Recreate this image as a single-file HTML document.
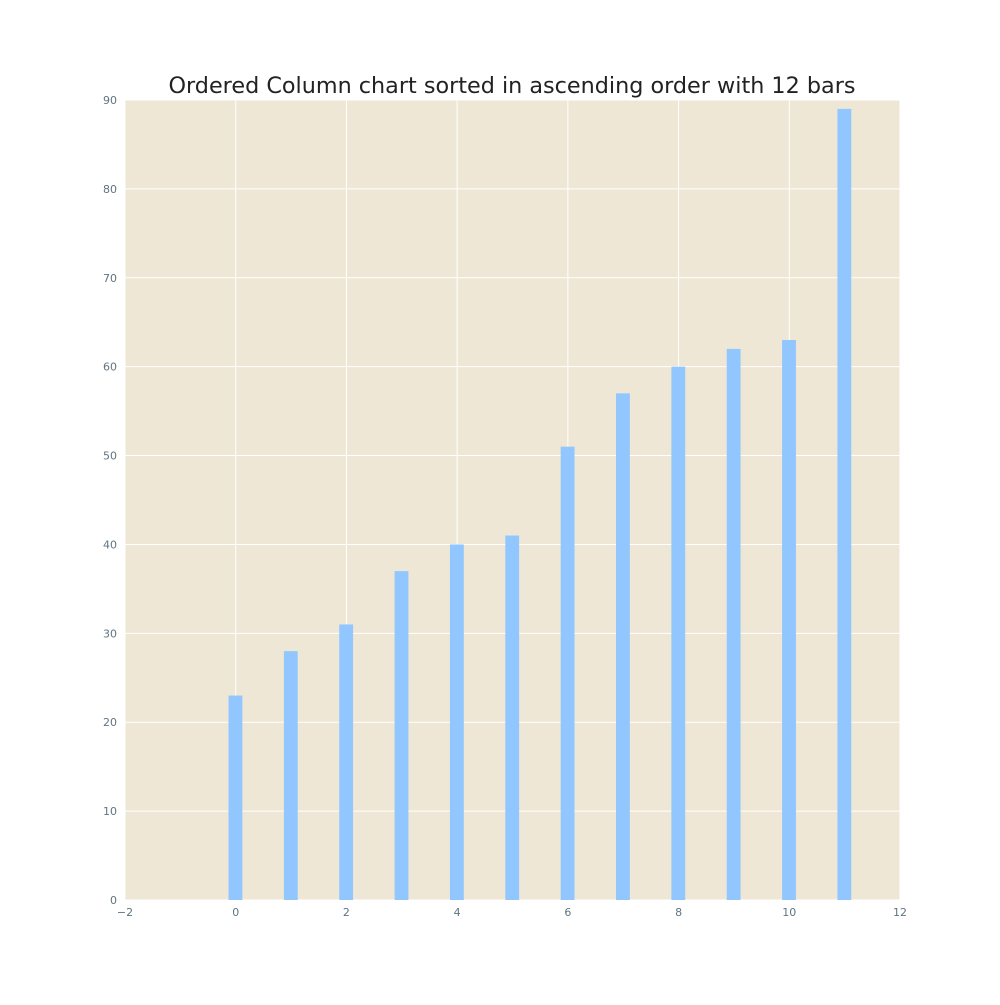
<!DOCTYPE html>
<html><head><meta charset="utf-8"><style>
body{margin:0;background:#fff;}
svg text{font-family:"DejaVu Sans","Liberation Sans",sans-serif;}
</style></head><body>
<svg id="chart" width="1000" height="1000" xmlns="http://www.w3.org/2000/svg">
<text x="512" y="93" text-anchor="middle" font-size="22.3" fill="#222">Ordered Column chart sorted in ascending order with 12 bars</text>
<rect x="125" y="100" width="775" height="800" fill="#efe7d5"/>
<g id="grid"></g><g id="bars"></g><g id="ticks"></g>
</svg>
<script>
const categories=[0,1,2,3,4,5,6,7,8,9,10,11];
const values=[23,28,31,37,40,41,51,57,60,62,63,89];
const xTicks=[-2,0,2,4,6,8,10,12];
const yTicks=[0,10,20,30,40,50,60,70,80,90];
const L=125,R=900,T=100,B=900;
const xs=v=>L+(v+2)/14*(R-L);
const ys=v=>B-v/90*(B-T);
const NS='http://www.w3.org/2000/svg';
function mk(t,a,p){const e=document.createElementNS(NS,t);for(const k in a)e.setAttribute(k,a[k]);document.getElementById(p).appendChild(e);return e;}
xTicks.forEach(t=>{
  const g=mk('line',{x1:xs(t),x2:xs(t),y1:T,y2:B,stroke:'#fff','stroke-width':1},'grid');
  
  
  const l=mk('text',{x:xs(t),y:B+16,'text-anchor':'middle','font-size':11,fill:'#5f7480'},'ticks');
  l.textContent=(t<0?'\u2212':'')+Math.abs(t);
  
  
});
yTicks.forEach(t=>{
  const g=mk('line',{x1:L,x2:R,y1:ys(t),y2:ys(t),stroke:'#fff','stroke-width':1},'grid');
  
  
  const l=mk('text',{x:L-8,y:ys(t)+4,'text-anchor':'end','font-size':11,fill:'#5f7480'},'ticks');
  l.textContent=t;
  
  
});
const w=0.25;
categories.forEach((c,i)=>{
  const b=mk('rect',{x:xs(c-w/2-0.005),y:ys(values[i]),width:xs(w)-xs(0),height:B-ys(values[i]),fill:'#92c6ff'},'bars');
  
  
});
</script>
</body></html>
